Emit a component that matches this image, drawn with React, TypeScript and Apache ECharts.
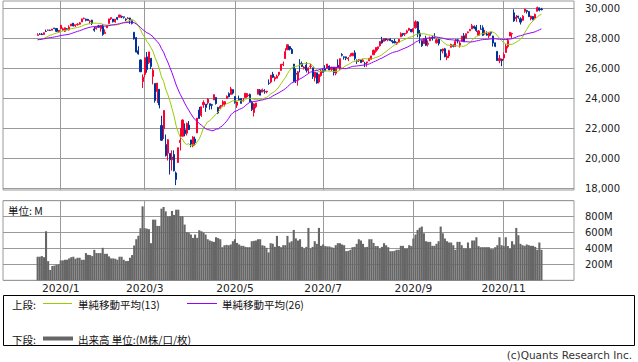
import React, { useEffect, useRef } from "react";
import * as echarts from "echarts";

// Trading days (categories), grouped by month
const tradingDays: [string, number[]][] = [
  ["2019/12", [16, 17, 18, 19, 20, 23, 24, 26, 27, 30, 31]],
  ["2020/1", [2, 3, 6, 7, 8, 9, 10, 13, 14, 15, 16, 17, 21, 22, 23, 24, 27, 28, 29, 30, 31]],
  ["2020/2", [3, 4, 5, 6, 7, 10, 11, 12, 13, 14, 18, 19, 20, 21, 24, 25, 26, 27, 28]],
  ["2020/3", [2, 3, 4, 5, 6, 9, 10, 11, 12, 13, 16, 17, 18, 19, 20, 23, 24, 25, 26, 27, 30, 31]],
  ["2020/4", [1, 2, 3, 6, 7, 8, 9, 13, 14, 15, 16, 17, 20, 21, 22, 23, 24, 27, 28, 29, 30]],
  ["2020/5", [1, 4, 5, 6, 7, 8, 11, 12, 13, 14, 15, 18, 19, 20, 21, 22, 26, 27, 28, 29]],
  ["2020/6", [1, 2, 3, 4, 5, 8, 9, 10, 11, 12, 15, 16, 17, 18, 19, 22, 23, 24, 25, 26, 29, 30]],
  ["2020/7", [1, 2, 6, 7, 8, 9, 10, 13, 14, 15, 16, 17, 20, 21, 22, 23, 24, 27, 28, 29, 30, 31]],
  ["2020/8", [3, 4, 5, 6, 7, 10, 11, 12, 13, 14, 17, 18, 19, 20, 21, 24, 25, 26, 27, 28, 31]],
  ["2020/9", [1, 2, 3, 4, 8, 9, 10, 11, 14, 15, 16, 17, 18, 21, 22, 23, 24, 25, 28, 29, 30]],
  ["2020/10", [1, 2, 5, 6, 7, 8, 9, 12, 13, 14, 15, 16, 19, 20, 21, 22, 23, 26, 27, 28, 29, 30]],
  ["2020/11", [2, 3, 4, 5, 6, 9, 10, 11, 12, 13, 16, 17, 18, 19, 20, 23, 24, 25, 27]],
];

const opens = [
  28191, 28276, 28283, 28258, 28457, 28529, 28543, 28539, 28676, 28654, 28415,
  28638, 28553, 28465, 28639, 28556, 28823, 29012, 28823, 28902, 28939, 29090, 29314, 29279, 29264, 29113, 29211, 28627, 28643, 28825, 28641, 28813,
  28319, 28696, 28987, 29303, 29286, 29088, 29394, 29406, 29446, 29432, 29280, 29300, 29355, 29174, 28402, 28045, 27169, 26554, 25117,
  25590, 26762, 26383, 26671, 25457, 24992, 24453, 24604, 22184, 21973, 20917, 20345, 20329, 19898, 20254, 19028, 19722, 21051, 21468, 21898, 21678, 22209,
  21227, 20819, 21285, 21693, 23217, 22858, 23575, 23607, 23699, 23644, 23571, 23886, 24060, 23384, 23326, 23462, 23592, 23983, 24312, 24252, 24579,
  24121, 23530, 23962, 23983, 23833, 24050, 24173, 24263, 23735, 23049, 23435, 24269, 24546, 24411, 24518, 24426, 25015, 25082, 25606, 25287,
  25342, 25582, 25861, 26226, 26649, 27232, 27447, 27251, 26282, 25659, 25207, 26326, 26324, 26005, 26215, 25840, 26130, 26033, 25369, 25697, 25083, 25512,
  25880, 25958, 26001, 26152, 25924, 26067, 25662, 26202, 25998, 26925, 26765, 26762, 26626, 26800, 26833, 27032, 26532, 26515, 26560, 26443, 26330, 26360,
  26500, 26600, 26900, 27130, 27300, 27500, 27900, 27800, 27970, 27880, 27950, 27860, 27790, 27620, 27740, 28100, 28330, 28280, 28370, 28540, 28600,
  28440, 28700, 29090, 28340, 27840, 27640, 28000, 27600, 27830, 28080, 28060, 27700, 27950, 27250, 27170, 27300, 26700, 26820, 27400, 27550, 27460,
  27900, 27540, 27800, 28170, 28000, 28370, 28500, 28620, 28800, 28760, 28200, 28620, 28700, 28300, 28290, 28150, 28390, 28150, 27700, 27130, 26500, 26600,
  26690, 27050, 27450, 28150, 28290, 29700, 29300, 29480, 29300, 29200, 29800, 29850, 29790, 29300, 29450, 29350, 29800, 30030, 29950,
];

const highs = [
  28337, 28349, 28356, 28377, 28582, 28582, 28576, 28621, 28701, 28664, 28547,
  28872, 28716, 28708, 28685, 28866, 28956, 29013, 28908, 29010, 29087, 29300, 29373, 29305, 29296, 29216, 29232, 28752, 28788, 28892, 28879, 28939,
  28593, 28866, 29308, 29381, 29286, 29277, 29415, 29568, 29518, 29440, 29333, 29408, 29371, 29174, 28402, 28085, 27468, 26593, 25595,
  26706, 27084, 27102, 26671, 25995, 24992, 25020, 24604, 22837, 23189, 21588, 21269, 20329, 20533, 20531, 19121, 20705, 22019, 22596, 22327, 22378, 22479,
  21227, 21477, 21447, 22680, 23428, 23434, 23865, 23607, 24012, 23644, 23629, 24264, 24060, 23434, 23554, 23868, 23795, 24188, 24395, 24764, 24579,
  24121, 23786, 24181, 24017, 24019, 24332, 24336, 24315, 23837, 23662, 23698, 24621, 24613, 24645, 24610, 24497, 25258, 25548, 25763, 25473,
  25578, 25742, 26270, 26453, 27339, 27581, 27447, 27355, 26282, 25981, 25821, 26611, 26452, 26144, 26409, 26059, 26291, 26033, 25747, 25703, 25601, 25905,
  26000, 26204, 26290, 26186, 26067, 26067, 26080, 26600, 26645, 27009, 26795, 26770, 26751, 27000, 27020, 27200, 26590, 26620, 26600, 26640, 26430, 26445,
  26700, 26830, 27250, 27390, 27440, 27800, 28100, 28000, 28000, 27950, 27990, 27880, 27960, 27760, 27950, 28400, 28350, 28340, 28570, 28700, 28620,
  28660, 29200, 29140, 28550, 27870, 28000, 28170, 27860, 28120, 28180, 28340, 27980, 27960, 27260, 27320, 27360, 27000, 27230, 27640, 27590, 27950,
  27940, 27800, 28160, 28350, 28320, 28460, 28630, 28960, 28850, 28890, 28550, 28890, 28860, 28560, 28460, 28420, 28430, 28170, 27710, 27130, 26890, 26640,
  27050, 27610, 28000, 28430, 28380, 29933, 29550, 29500, 29400, 29540, 29960, 29900, 29810, 29500, 29480, 29650, 30120, 30050, 30030,
];

const lows = [
  28191, 28239, 28229, 28222, 28417, 28505, 28503, 28535, 28608, 28419, 28377,
  28627, 28501, 28419, 28565, 28522, 28813, 28789, 28767, 28850, 28915, 29090, 29268, 29135, 29179, 28946, 28884, 28440, 28579, 28732, 28446, 28169,
  28319, 28696, 28987, 29224, 29056, 29043, 29211, 29406, 29341, 29315, 29140, 29300, 28961, 28923, 27912, 27058, 26915, 25752, 24681,
  25391, 25706, 26286, 25943, 24927, 23707, 23690, 23328, 21154, 21285, 20116, 19852, 18917, 19178, 19122, 18214, 19722, 20520, 21468, 21469, 21522, 21880,
  20735, 20736, 20863, 21693, 22643, 22758, 23361, 23094, 23573, 23243, 23260, 23886, 23578, 22942, 23326, 23462, 23456, 23983, 24068, 24252, 24252,
  23645, 23361, 23830, 23645, 23779, 24050, 24082, 23759, 23150, 22790, 23333, 24269, 24202, 24411, 24305, 24331, 24895, 24996, 25350, 25125,
  25342, 25473, 25861, 26139, 26629, 27232, 27190, 26956, 25082, 25019, 24843, 25729, 26081, 25921, 25718, 25639, 25965, 25297, 25128, 24972, 24991, 25440,
  25710, 25800, 26001, 25875, 25820, 25520, 25535, 26070, 25900, 26788, 26583, 26540, 26480, 26800, 26833, 26530, 26290, 26420, 26370, 26420, 26080, 26100,
  26480, 26570, 26900, 27030, 27190, 27450, 27640, 27780, 27830, 27800, 27810, 27660, 27680, 27560, 27700, 28100, 28130, 28150, 28300, 28500, 28400,
  28350, 28650, 28070, 27660, 27430, 27640, 27480, 27450, 27830, 27850, 28000, 27650, 27520, 26540, 26990, 26740, 26540, 26680, 27390, 27400, 27450,
  27660, 27380, 27800, 27770, 28000, 28330, 28480, 28620, 28610, 28430, 28150, 28600, 28150, 28250, 28170, 28020, 28180, 27450, 27410, 26510, 26340, 26140,
  26540, 27050, 27330, 28150, 28000, 29100, 29100, 29300, 28920, 29180, 29700, 29650, 29430, 29200, 29200, 29320, 29800, 29800, 29860,
];

const closes = [
  28235, 28267, 28239, 28377, 28455, 28551, 28515, 28621, 28645, 28462, 28538,
  28868, 28634, 28703, 28583, 28745, 28956, 28824, 28907, 28940, 29030, 29297, 29348, 29196, 29186, 29160, 28990, 28535, 28723, 28734, 28859, 28256,
  28400, 28808, 29291, 29380, 29103, 29276, 29276, 29551, 29423, 29398, 29232, 29348, 29220, 28992, 27961, 27081, 26957, 25766, 25409,
  26703, 25917, 27091, 26121, 25865, 23851, 25018, 23553, 21200, 23186, 20189, 21237, 19899, 20087, 19174, 18592, 20705, 21201, 22552, 21637, 22327, 21917,
  20944, 21413, 21053, 22680, 22654, 23434, 23719, 23390, 23950, 23505, 23538, 24242, 23650, 23019, 23476, 23515, 23775, 24134, 24101, 24634, 24346,
  23724, 23750, 23883, 23664, 23875, 24331, 24222, 23765, 23248, 23625, 23685, 24597, 24207, 24576, 24474, 24465, 24995, 25548, 25400, 25383,
  25475, 25742, 26270, 26282, 27111, 27572, 27272, 26990, 25128, 25606, 25763, 26290, 26120, 26080, 25871, 26025, 26156, 25446, 25745, 25016, 25596, 25813,
  25735, 25827, 26287, 25890, 26067, 25706, 26075, 26086, 26643, 26870, 26735, 26672, 26681, 26840, 27005, 26652, 26470, 26585, 26380, 26540, 26314, 26428,
  26665, 26828, 27201, 27387, 27433, 27791, 27687, 27977, 27897, 27931, 27844, 27778, 27692, 27740, 27930, 28308, 28249, 28332, 28492, 28654, 28430,
  28646, 29100, 28292, 28133, 27501, 27940, 27535, 27666, 27993, 27996, 28032, 27902, 27657, 27148, 27289, 26763, 26815, 27174, 27584, 27453, 27782,
  27817, 27683, 28149, 27773, 28303, 28426, 28587, 28838, 28680, 28514, 28494, 28606, 28196, 28309, 28211, 28364, 28336, 27685, 27464, 26520, 26660, 26502,
  26925, 27481, 27848, 28390, 28323, 29158, 29421, 29398, 29080, 29480, 29950, 29784, 29438, 29483, 29263, 29592, 30046, 29873, 29910,
];

// Closes of the 25 sessions before the first one shown (used for the moving averages)
const priorCloses = [
  27681, 27691, 27691, 27784, 27782, 28005, 28036, 27934, 27821, 27766, 27876, 28066, 28121,
  28164, 28051, 27783, 27502, 27649, 27677, 28015, 27909, 27881, 27911, 28132, 28135,
];

// Volume, millions
const volumes = [
  296, 296, 304, 290, 616, 241, 130, 180, 185, 195, 200,
  250, 250, 258, 258, 275, 290, 296, 270, 283, 283, 258, 258, 342, 320, 317, 304, 383, 342, 342, 342, 408,
  333, 333, 300, 275, 275, 270, 258, 296, 296, 258, 241, 241, 283, 317, 437, 516, 560, 654, 929,
  654, 650, 642, 466, 762, 762, 683, 683, 900, 921, 866, 804, 804, 871, 821, 887, 887, 804, 804, 700, 606, 600,
  575, 533, 575, 533, 629, 616, 600, 575, 516, 500, 490, 483, 541, 530, 516, 416, 440, 445, 440, 450, 491,
  516, 470, 450, 433, 433, 420, 416, 416, 491, 495, 500, 516, 516, 440, 433, 408, 350, 466, 460, 420,
  558, 430, 416, 441, 441, 558, 475, 491, 633, 527, 500, 516, 420, 400, 420, 658, 400, 420, 491, 458, 658, 433,
  450, 430, 425, 425, 415, 408, 441, 466, 466, 450, 441, 366, 370, 383, 416, 420, 458, 516, 500, 458, 416, 420,
  516, 516, 470, 430, 430, 400, 420, 466, 440, 416, 366, 366, 370, 383, 383, 433, 433, 400, 400, 441, 430,
  525, 575, 633, 660, 675, 591, 491, 483, 483, 433, 433, 458, 491, 675, 590, 525, 491, 475, 475, 441, 383,
  483, 483, 441, 400, 400, 475, 400, 500, 500, 541, 430, 416, 416, 416, 416, 416, 392, 392, 416, 441, 541, 441,
  430, 541, 430, 400, 491, 450, 658, 566, 458, 441, 433, 450, 441, 433, 433, 420, 383, 475, 383,
];

const monthLabels = ["2020/1", "2020/3", "2020/5", "2020/7", "2020/9", "2020/11"];
const priceMin = 18000;
const priceMax = 30000;
const priceStep = 2000;
const volumeMax = 1000;
const volumeStep = 200;

const PAD_L = 16;
const PAD_R = 15;

const UP = "#ff0033";
const DOWN = "#003399";
const GRID = "#999999";
const CJK = '"Noto Sans CJK JP", sans-serif';

export default function App() {
  const ref = useRef<HTMLDivElement>(null);

  useEffect(() => {
    const chart = echarts.init(ref.current!, null, { renderer: "svg" });

    const dates = tradingDays.flatMap(([ym, ds]) => ds.map((d) => `${ym}/${d}`));
    const cats = [
      ...Array.from({ length: PAD_L }, (_, k) => `L${k}`),
      ...dates,
      ...Array.from({ length: PAD_R }, (_, k) => `R${k}`),
    ];
    const pad = (arr: any[], blank: any) => [
      ...Array.from({ length: PAD_L }, () => blank),
      ...arr,
      ...Array.from({ length: PAD_R }, () => blank),
    ];
    const full = priorCloses.concat(closes);
    const ma = (n: number) =>
      closes.map((_, i) => {
        const k = i + priorCloses.length;
        let s = 0;
        for (let j = k - n + 1; j <= k; j++) s += full[j];
        return +(s / n).toFixed(1);
      });
    const candles = dates.map((_, i) => [opens[i], closes[i], lows[i], highs[i]]);
    const monthIdx = new Set(
      monthLabels.map((l) => PAD_L + dates.findIndex((d) => d.startsWith(l + "/")))
    );
    const isMonth = (i: number) => monthIdx.has(i);

    const vSplit = {
      show: true,
      interval: isMonth,
      alignWithLabel: true,
      lineStyle: { color: GRID, width: 1 },
    };

    const txt = (text: string, x: number, y: number, extra: any = {}) => ({
      type: "text",
      x,
      y,
      silent: true,
      style: {
        text,
        fill: "#111",
        font: `10.5px ${CJK}`,
        textAlign: "left",
        textVerticalAlign: "middle",
        ...extra,
      },
    });

    chart.setOption({
      animation: false,
      backgroundColor: "#ffffff",
      textStyle: { fontFamily: "DejaVu Sans" },
      grid: [
        // frame of the upper panel
        { left: 3, top: 1, width: 571, height: 189, show: true, borderColor: GRID, borderWidth: 1, backgroundColor: "transparent" },
        // price area
        { left: 3, top: 8.3, width: 571, height: 180 },
        // volume panel
        { left: 3, top: 200.7, width: 571, height: 79.6, show: true, borderColor: GRID, borderWidth: 1, backgroundColor: "transparent" },
      ],
      xAxis: [
        {
          type: "category", gridIndex: 0, data: cats, boundaryGap: true,
          axisLine: { show: false }, axisTick: { show: false }, axisLabel: { show: false },
          splitLine: vSplit,
        },
        {
          type: "category", gridIndex: 1, data: cats, boundaryGap: true, show: false,
        },
        {
          type: "category", gridIndex: 2, data: cats, boundaryGap: true,
          axisLine: { show: false }, axisTick: { show: false },
          axisLabel: {
            show: true,
            interval: isMonth,
            margin: 3,
            fontSize: 10.7,
            color: "#222",
            fontFamily: "DejaVu Sans",
            formatter: (v: string) => v.split("/").slice(0, 2).join("/"),
          },
          splitLine: vSplit,
        },
      ],
      yAxis: [
        { type: "value", gridIndex: 0, show: false, min: 0, max: 1 },
        {
          type: "value", gridIndex: 1, position: "right",
          min: priceMin, max: priceMax, interval: priceStep,
          axisLine: { show: false }, axisTick: { show: false },
          axisLabel: {
            margin: 11, fontSize: 10, color: "#222", fontFamily: "DejaVu Sans",
            formatter: (v: number) => v.toLocaleString("en-US"),
          },
          splitLine: { show: true, lineStyle: { color: GRID, width: 1 } },
        },
        {
          type: "value", gridIndex: 2, position: "right",
          min: 0, max: volumeMax, interval: volumeStep,
          axisLine: { show: false }, axisTick: { show: false },
          axisLabel: {
            margin: 11, fontSize: 10, color: "#222", fontFamily: "DejaVu Sans",
            formatter: (v: number) => (v === 0 || v === volumeMax ? "" : `${v}M`),
          },
          splitLine: { show: true, lineStyle: { color: GRID, width: 1 } },
        },
      ],
      series: [
        {
          type: "candlestick",
          xAxisIndex: 1, yAxisIndex: 1,
          data: pad(candles, ["-", "-", "-", "-"]),
          barWidth: 1.6,
          clip: false,
          itemStyle: { color: UP, color0: DOWN, borderColor: UP, borderColor0: DOWN, borderWidth: 1 },
        },
        {
          type: "line", name: "単純移動平均(13)",
          xAxisIndex: 1, yAxisIndex: 1,
          data: pad(ma(13), "-"),
          symbol: "none", z: 4,
          lineStyle: { color: "#99cc00", width: 1 },
        },
        {
          type: "line", name: "単純移動平均(26)",
          xAxisIndex: 1, yAxisIndex: 1,
          data: pad(ma(26), "-"),
          symbol: "none", z: 4,
          lineStyle: { color: "#9900ff", width: 1 },
        },
        {
          type: "bar", name: "出来高",
          xAxisIndex: 2, yAxisIndex: 2,
          data: pad(volumes, "-"),
          barCategoryGap: "0%",
          itemStyle: { color: "#666666" },
        },
      ],
      graphic: [
        txt("単位: M", 8, 210.5),
        {
          type: "rect", silent: true,
          shape: { x: 3.5, y: 295.5, width: 631, height: 50 },
          style: { fill: "#ffffff", stroke: "#000000", lineWidth: 1 },
        },
        txt("上段:", 12, 304),
        { type: "line", silent: true, shape: { x1: 43, y1: 303.5, x2: 72, y2: 303.5 }, style: { stroke: "#99cc00", lineWidth: 1 } },
        txt("単純移動平均(13)", 78, 304),
        { type: "line", silent: true, shape: { x1: 187, y1: 303.5, x2: 217, y2: 303.5 }, style: { stroke: "#9900ff", lineWidth: 1 } },
        txt("単純移動平均(26)", 222, 304),
        txt("下段:", 12, 339),
        { type: "line", silent: true, shape: { x1: 43, y1: 338.5, x2: 73, y2: 338.5 }, style: { stroke: "#666666", lineWidth: 4 } },
        txt("出来高 単位:(M株/口/枚)", 78, 339),
        txt("(c)Quants Research Inc.", 632, 355, {
          textAlign: "right", font: "10.5px DejaVu Sans", fill: "#333",
        }),
      ],
    });

    return () => chart.dispose();
  }, []);

  return (
    <div
      ref={ref}
      style={{ position: "fixed", left: 0, top: 0, width: 638, height: 362, background: "#fff" }}
    />
  );
}
